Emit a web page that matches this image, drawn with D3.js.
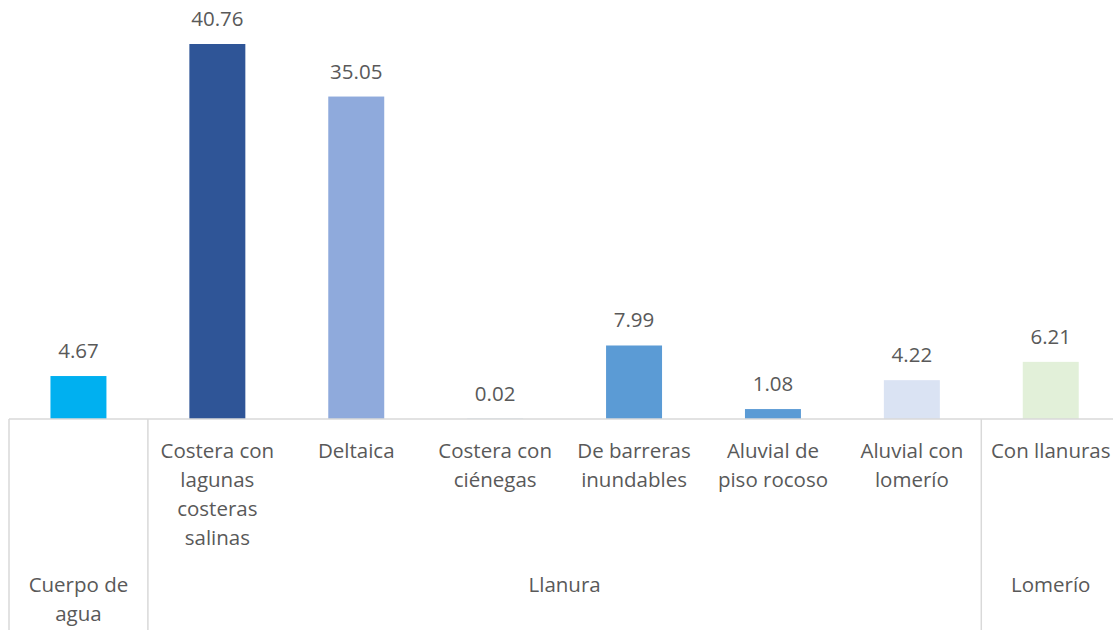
<!DOCTYPE html>
<html>
<head>
<meta charset="utf-8">
<script src="https://cdn.jsdelivr.net/npm/d3@7"></script>
<style>
  html, body { margin: 0; padding: 0; background: #fff; }
  svg { display: block; }
  text { font-family: "Open Sans", "Liberation Sans", sans-serif; fill: #595959; }
</style>
</head>
<body>
<svg id="chart" width="1113" height="630"></svg>
<script>
// Landform types (lines of each tick label), values (%) and bar colours
const categories = [
  ["Cuerpo de agua"],
  ["Costera con", "lagunas", "costeras", "salinas"],
  ["Deltaica"],
  ["Costera con", "ciénegas"],
  ["De barreras", "inundables"],
  ["Aluvial de", "piso rocoso"],
  ["Aluvial con", "lomerío"],
  ["Con llanuras"]
];
const values = [4.67, 40.76, 35.05, 0.02, 7.99, 1.08, 4.22, 6.21];
const labels = ["4.67", "40.76", "35.05", "0.02", "7.99", "1.08", "4.22", "6.21"];
const colors = ["#00B0F0", "#2F5597", "#8FAADC", "#5B9BD5", "#5B9BD5", "#5B9BD5", "#DAE3F3", "#E2F0D9"];

// Outer grouping level: name, first index, count
const groupNames = [["Cuerpo de", "agua"], ["Llanura"], ["Lomerío"]];
const groupStart = [0, 1, 7];
const groupSize = [1, 6, 1];

const svg = d3.select("#chart");
const left = 9, step = 138.9;
const baseY = 419, topY = 5;
const fs = "20.5px";

const x = d3.scaleBand()
  .domain(d3.range(values.length))
  .range([left, left + step * values.length])
  .paddingInner(0.597)
  .paddingOuter(0.2985);

const y = d3.scaleLinear().domain([0, 45]).range([baseY, topY]);

// bars
svg.append("g").selectAll("rect")
  .data(values)
  .join("rect")
  .attr("x", (d, i) => x(i))
  .attr("width", x.bandwidth())
  .attr("y", d => y(d))
  .attr("height", d => y(0) - y(d))
  .attr("fill", (d, i) => colors[i]);

// value labels above bars
svg.append("g").selectAll("text")
  .data(values)
  .join("text")
  .attr("x", (d, i) => x(i) + x.bandwidth() / 2)
  .attr("y", d => y(d) - 18)
  .attr("text-anchor", "middle")
  .style("font-size", fs)
  .text((d, i) => labels[i]);

// category axis line
svg.append("line")
  .attr("x1", left).attr("x2", 1113)
  .attr("y1", baseY).attr("y2", baseY)
  .attr("stroke", "#d9d9d9").attr("stroke-width", 1.5);

// inner category labels (multi-line)
const lineH = 29;
const catG = svg.append("g");
categories.forEach((lines, i) => {
  if (i === 0) return; // single-item group shows only the group name
  const t = catG.append("text")
    .attr("text-anchor", "middle")
    .style("font-size", fs);
  lines.forEach((ln, k) => {
    t.append("tspan")
      .attr("x", x(i) + x.bandwidth() / 2)
      .attr("y", 458 + k * lineH)
      .text(ln);
  });
});

// group separators and group labels
const edge = i => left + step * i;
const sepX = [0, ...groupStart.slice(1)];
svg.append("g").selectAll("line")
  .data(sepX)
  .join("line")
  .attr("x1", d => edge(d)).attr("x2", d => edge(d))
  .attr("y1", baseY).attr("y2", 630)
  .attr("stroke", "#d9d9d9").attr("stroke-width", 1.5);

const grpG = svg.append("g");
groupNames.forEach((lines, g) => {
  const cx = (edge(groupStart[g]) + edge(groupStart[g] + groupSize[g])) / 2;
  const t = grpG.append("text")
    .attr("text-anchor", "middle")
    .style("font-size", fs);
  lines.forEach((ln, k) => {
    t.append("tspan")
      .attr("x", cx)
      .attr("y", 592 + k * lineH)
      .text(ln);
  });
});
</script>
</body>
</html>
